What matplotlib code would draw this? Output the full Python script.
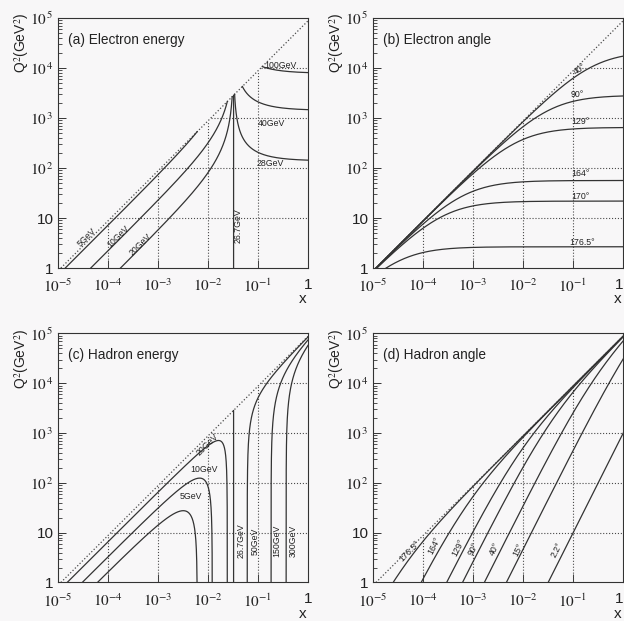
import numpy as np
import matplotlib
matplotlib.use("Agg")
import matplotlib.pyplot as plt


# # # # # beam settings and contour values # # # # #

E_E = 26.7      # electron beam energy (GeV)
E_P = 820.0     # proton beam energy (GeV)
S = 4 * E_E * E_P

# scattered electron energies: labels as printed, and the energy each drawn
# curve actually follows (read off where the curves sit in the picture)
elec_energy_labels = ["5GeV", "10GeV", "20GeV", "26.7GeV", "28GeV", "40GeV", "100GeV"]
elec_energies = [5, 20, 25, 26.7, 28, 40, 100]          # GeV

elec_angle_labels = ["40°", "90°", "129°", "164°", "170°", "176.5°"]
elec_angles = [40, 90, 129, 164, 170, 176.5]            # degrees

had_energy_labels = ["5GeV", "10GeV", "20GeV", "26.7GeV", "50GeV", "150GeV", "300GeV"]
had_energies = [5, 10, 20, 26.7, 50, 150, 300]          # GeV

had_angle_labels = ["176.5°", "164°", "129°", "90°", "40°", "15°", "2.2°"]
had_angles = [176.5, 164, 129, 90, 40, 15, 2.2]         # degrees

x_ticks = [1e-5, 1e-4, 1e-3, 1e-2, 1e-1, 1]
x_tick_labels = [r'$10^{-5}$', r'$10^{-4}$', r'$10^{-3}$', r'$10^{-2}$', r'$10^{-1}$', '1']
q2_ticks = [1, 10, 1e2, 1e3, 1e4, 1e5]
q2_tick_labels = ['1', '10', r'$10^{\,2}$', r'$10^{\,3}$', r'$10^{\,4}$', r'$10^{\,5}$']
grid_x = [1e-4, 1e-3, 1e-2, 1e-1]
grid_q2 = [10, 1e2, 1e3, 1e4]

panel_titles = ["(a) Electron energy", "(b) Electron angle",
	"(c) Hadron energy", "(d) Hadron angle"]


# # # # # style # # # # #

plt.rcParams['font.family'] = ['Liberation Sans', 'DejaVu Sans']
plt.rcParams['mathtext.fontset'] = 'stix'

LINE_COL = "#333333"
DOT_COL = "#4a4a4a"
TXT_COL = "#222222"
BG_COL = "#f8f7f8"


# # # # # kinematics # # # # #

def unit_param(n=3000):
	# values in (0,1), dense near both ends
	a = np.geomspace(1e-9, 0.5, n)
	return np.concatenate([a, 1 - a[::-1]])

def electron_energy_curve(e):
	y_lo = max(1 - e / E_E, 0)
	y = y_lo + (1 - y_lo) * unit_param()
	q2 = 4 * E_E**2 * (y - 1 + e / E_E)
	return q2 / (S * y), q2

def electron_angle_curve(th):
	k = 4 * E_E**2 / np.tan(np.radians(th) / 2)**2
	y = unit_param()
	q2 = k * (1 - y)
	return q2 / (S * y), q2

def hadron_energy_curve(eh):
	t_max = min(2.0, 2 * E_E / eh)
	t = t_max * unit_param()
	y = eh * t / (2 * E_E)
	q2 = eh**2 * t * (2 - t) / (1 - y)
	return q2 / (S * y), q2

def hadron_angle_curve(th):
	k = 4 * E_E**2 / np.tan(np.radians(th) / 2)**2
	y = unit_param()
	q2 = k * y**2 / (1 - y)
	return q2 / (S * y), q2


# # # # # axes frame # # # # #

def setup_axes(ax, title, right_panel):
	ax.set_facecolor(BG_COL)
	ax.set_xscale('log')
	ax.set_yscale('log')
	ax.set_xlim(1e-5, 1)
	ax.set_ylim(1, 1e5)
	ax.set_xticks(x_ticks)
	xl = ax.set_xticklabels(x_tick_labels, fontsize=11)
	if right_panel:
		xl[-1].set_horizontalalignment('right')
	ax.set_yticks(q2_ticks)
	ax.set_yticklabels(q2_tick_labels, fontsize=11)
	ax.tick_params(which='both', direction='in', top=False, right=False, color=LINE_COL,
		labelcolor=TXT_COL)
	ax.tick_params(which='major', length=6, width=0.7)
	ax.tick_params(which='minor', length=3, width=0.6)
	ax.tick_params(axis='x', pad=7)
	ax.tick_params(axis='y', pad=3)
	for sp in ax.spines.values():
		sp.set_linewidth(0.8)
		sp.set_color(LINE_COL)

	# kinematic limit y = 1
	ax.plot([1 / S, 1], [1, S], ls=':', lw=0.9, color=DOT_COL)

	# grid only inside kinematic region
	for gx in grid_x:
		ax.plot([gx, gx], [1, S * gx], ls=':', lw=0.8, color=DOT_COL)
	for gq in grid_q2:
		ax.plot([gq / S, 1], [gq, gq], ls=':', lw=0.8, color=DOT_COL)

	ax.text(0.04, 0.912, title, transform=ax.transAxes, fontsize=9.8, va='center', color=TXT_COL)
	ax.text(-0.145, 1.02, r'Q$^2$(GeV$^2$)', transform=ax.transAxes, rotation=90,
		ha='center', va='top', fontsize=10, color=TXT_COL)
	ax.text(0.98, -0.125, 'x', transform=ax.transAxes, ha='center', va='center',
		fontsize=11, color=TXT_COL)

def curve_label(ax, x, y, txt, rot=0):
	ax.text(x, y, txt, fontsize=6.3, rotation=rot, ha='center', va='center',
		rotation_mode='anchor', color=TXT_COL)


# # # # # figure # # # # #

fig = plt.figure(figsize=(6.24, 6.21), dpi=100)
fig.patch.set_facecolor(BG_COL)

ax_a = fig.add_axes([0.0929, 0.5684, 0.4006, 0.4026])
ax_b = fig.add_axes([0.5978, 0.5684, 0.4006, 0.4026])
ax_c = fig.add_axes([0.0929, 0.0620, 0.4006, 0.4010])
ax_d = fig.add_axes([0.5978, 0.0620, 0.4006, 0.4010])

for ax, title, rp in zip([ax_a, ax_b, ax_c, ax_d], panel_titles, [False, True, False, True]):
	setup_axes(ax, title, rp)

# (a) electron energy
for e in elec_energies:
	x, q2 = electron_energy_curve(e)
	ax_a.plot(x, q2, color=LINE_COL, lw=0.9)
a_pos = [(3.7e-5, 4.1, 45), (1.6e-4, 4.2, 45), (4.5e-4, 3.0, 45), (0.0395, 6.9, 90),
	(0.175, 124, 0), (0.19, 790, 0), (0.28, 1.14e4, 0)]
for lab, (px, py, rot) in zip(elec_energy_labels, a_pos):
	curve_label(ax_a, px, py, lab, rot)

# (b) electron angle
for th in elec_angles:
	x, q2 = electron_angle_curve(th)
	ax_b.plot(x, q2, color=LINE_COL, lw=0.9)
b_pos = [(0.136, 9.5e3, 35), (0.124, 3.0e3, 0), (0.14, 855, 0), (0.14, 79, 0),
	(0.14, 27, 0), (0.15, 3.2, 0)]
for lab, (px, py, rot) in zip(elec_angle_labels, b_pos):
	curve_label(ax_b, px, py, lab, rot)

# (c) hadron energy
for eh in had_energies:
	x, q2 = hadron_energy_curve(eh)
	ax_c.plot(x, q2, color=LINE_COL, lw=0.9)
c_pos = [(4.5e-3, 54, 0), (8.5e-3, 185, 0), (9.8e-3, 600, 45), (0.045, 6.8, 90),
	(0.089, 6.8, 90), (0.24, 6.8, 90), (0.5, 6.8, 90)]
for lab, (px, py, rot) in zip(had_energy_labels, c_pos):
	curve_label(ax_c, px, py, lab, rot)

# (d) hadron angle
for th in had_angles:
	x, q2 = hadron_angle_curve(th)
	ax_d.plot(x, q2, color=LINE_COL, lw=0.9)
d_pos = [(5.4e-5, 4.3, 45), (1.7e-4, 5.4, 63), (5e-4, 5.0, 63), (1.0e-3, 4.8, 63),
	(2.7e-3, 4.8, 63), (7.9e-3, 4.6, 63), (4.8e-2, 4.6, 63)]
for lab, (px, py, rot) in zip(had_angle_labels, d_pos):
	curve_label(ax_d, px, py, lab, rot)

fig.savefig("out.png", dpi=100, facecolor=fig.get_facecolor())
